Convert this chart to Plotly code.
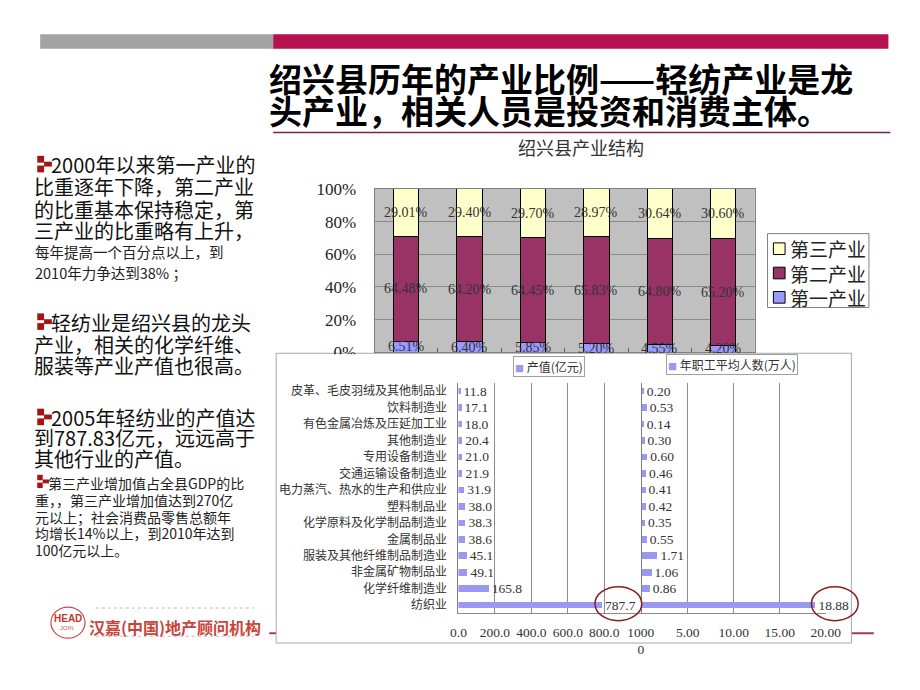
import plotly.graph_objects as go

W, H = 920, 690


def px(x):
    return x / W


def py(y):
    return 1 - y / H


# ---------------- data ----------------
years = ["2000年", "2001年", "2002年", "2003年", "2004年", "2005年"]
primary = [6.51, 6.40, 5.85, 5.20, 4.55, 4.20]
secondary = [64.48, 64.20, 64.45, 65.83, 64.80, 65.20]
tertiary = [29.01, 29.40, 29.70, 28.97, 30.64, 30.60]
sector_names = ["第一产业", "第二产业", "第三产业"]
pct_ticks = [0, 20, 40, 60, 80, 100]
pct_labels = ["0%", "20%", "40%", "60%", "80%", "100%"]

industries = [
    "皮革、毛皮羽绒及其他制品业", "饮料制造业", "有色金属冶炼及压延加工业", "其他制造业",
    "专用设备制造业", "交通运输设备制造业", "电力蒸汽、热水的生产和供应业", "塑料制品业",
    "化学原料及化学制品制造业", "金属制品业", "服装及其他纤维制品制造业", "非金属矿物制品业",
    "化学纤维制造业", "纺织业",
]
output_value = [11.8, 17.1, 18.0, 20.4, 21.0, 21.9, 31.9, 38.0, 38.3, 38.6, 45.1, 49.1, 165.8, 787.7]
workers = [0.20, 0.53, 0.14, 0.30, 0.60, 0.46, 0.41, 0.42, 0.35, 0.55, 1.71, 1.06, 0.86, 18.88]
value_ticks = [0, 200, 400, 600, 800, 1000]
value_ticklabels = ["0.0", "200.0", "400.0", "600.0", "800.0", "1000<br>0"]
worker_ticks = [5, 10, 15, 20]
worker_ticklabels = ["5.00", "10.00", "15.00", "20.00"]

CJK = "Noto Sans CJK SC"
SERIF = "Liberation Serif, Noto Sans CJK SC"
sector_colors = ["#9999FF", "#993366", "#FFFFCC"]
BAR_H = "#9999F2"

fig = go.Figure()

# ---------------- top stacked chart ----------------
sector_values = [primary, secondary, tertiary]
for name, vals, col in zip(sector_names, sector_values, sector_colors):
    fig.add_trace(go.Bar(
        x=years, y=vals, name=name, xaxis="x", yaxis="y",
        marker=dict(color=col, line=dict(color="#000000", width=1)),
        showlegend=False, hoverinfo="x+y+name",
    ))

annotations = []
# segment labels placed at segment mid-points (data coordinates)
for i, yr in enumerate(years):
    base = 0.0
    for vals in sector_values:
        v = vals[i]
        annotations.append(dict(x=yr, y=base + v / 2, xref="x", yref="y", text=f"{v:.2f}%",
                                showarrow=False, xanchor="center", yanchor="middle",
                                font=dict(family=SERIF, size=14, color="#333333")))
        base += v

# ---------------- lower horizontal bars ----------------
fig.add_trace(go.Bar(
    x=output_value, y=industries, orientation="h", xaxis="x2", yaxis="y2",
    marker=dict(color=BAR_H, line=dict(width=0)),
    texttemplate="%{x:.1f}", textposition="outside", cliponaxis=False, constraintext="none",
    textfont=dict(family=SERIF, size=13.5, color="#333333"), showlegend=False,
))
fig.add_trace(go.Bar(
    x=workers, y=industries, orientation="h", xaxis="x3", yaxis="y3",
    marker=dict(color=BAR_H, line=dict(width=0)),
    texttemplate="%{x:.2f}", textposition="outside", cliponaxis=False, constraintext="none",
    textfont=dict(family=SERIF, size=13.5, color="#333333"), showlegend=False,
))

shapes = []

# header bars
shapes.append(dict(type="rect", xref="paper", yref="paper", x0=px(33), x1=px(272), y0=py(41), y1=py(26),
                   fillcolor="#A3A3A3", line=dict(width=0), layer="below"))
shapes.append(dict(type="rect", xref="paper", yref="paper", x0=px(272), x1=px(903), y0=py(41), y1=py(26),
                   fillcolor="#B3124F", line=dict(width=0), layer="below"))
shapes.append(dict(type="line", xref="paper", yref="paper", x0=px(272), x1=px(905), y0=py(127), y1=py(127),
                   line=dict(color="#7B2350", width=1.5), layer="below"))
# footer line
shapes.append(dict(type="line", xref="paper", yref="paper", x0=px(268), x1=px(888), y0=py(642), y1=py(642),
                   line=dict(color="#9B3A62", width=2), layer="below"))
# lower chart frame
shapes.append(dict(type="rect", xref="paper", yref="paper", x0=px(275), x1=px(865), y0=py(652), y1=py(354),
                   fillcolor="#FFFFFF", line=dict(color="#A8A8A8", width=1), layer="below"))
# top plot gray background
shapes.append(dict(type="rect", xref="x domain", yref="y domain", x0=0, x1=1, y0=0, y1=1,
                   fillcolor="#C0C0C0", line=dict(width=0), layer="below"))
# patch hiding lower half of "0%"
shapes.append(dict(type="rect", xref="paper", yref="paper", x0=px(300), x1=px(372), y0=py(366), y1=py(355),
                   fillcolor="#FFFFFF", line=dict(width=0), layer="above"))

# top legend (custom)
shapes.append(dict(type="rect", xref="paper", yref="paper", x0=px(779), x1=px(883), y0=py(307), y1=py(231),
                   fillcolor="#FFFFFF", line=dict(color="#808080", width=1), layer="above"))
for i, (name, col) in enumerate(zip(sector_names[::-1], sector_colors[::-1])):
    yc = 246.5 + 25 * i
    shapes.append(dict(type="rect", xref="paper", yref="paper", x0=px(785), x1=px(797), y0=py(yc + 6), y1=py(yc - 6),
                       fillcolor=col, line=dict(color="#000000", width=1), layer="above"))
    annotations.append(dict(x=px(800), y=py(yc), xref="paper", yref="paper", text=name, showarrow=False,
                            xanchor="left", yanchor="middle", font=dict(family=CJK, size=19, color="#222222")))

# ellipses around the highlighted values
for x0, x1 in [(602, 650), (824, 872)]:
    shapes.append(dict(type="circle", xref="paper", yref="paper", x0=px(x0), x1=px(x1), y0=py(629), y1=py(594),
                       line=dict(color="#8B1C1C", width=1.5), layer="above"))


# bullets
def bullet(x, y, s=1.0):
    red = "#A31515"
    for (a, b, c, d) in [(0, 0, 7, 7), (7, 6, 15, 11), (0, 10, 7, 17)]:
        shapes.append(dict(type="rect", xref="paper", yref="paper",
                           x0=px(x + a * s), x1=px(x + c * s), y0=py(y + d * s), y1=py(y + b * s),
                           fillcolor=red, line=dict(width=0), layer="above"))


bullet(30, 151)
bullet(30, 313)
bullet(30, 411)
bullet(30, 479, 0.8)

# logo
shapes.append(dict(type="circle", xref="paper", yref="paper", x0=px(44), x1=px(79), y0=py(647), y1=py(615),
                   line=dict(color="#C44A4A", width=1.2), layer="above"))
shapes.append(dict(type="line", xref="paper", yref="paper", x0=px(90), x1=px(252), y0=py(616), y1=py(616),
                   line=dict(color="#BBBBBB", width=1, dash="dot"), layer="above"))
shapes.append(dict(type="line", xref="paper", yref="paper", x0=px(90), x1=px(252), y0=py(645), y1=py(645),
                   line=dict(color="#BBBBBB", width=1, dash="dot"), layer="above"))


def note(x, y, text, size, color="#111111", anchor="left", family=CJK):
    annotations.append(dict(x=px(x), y=py(y), xref="paper", yref="paper", text=text, showarrow=False,
                            xanchor=anchor, yanchor="middle", font=dict(family=family, size=size, color=color)))


# title
note(266, 71, "<b>绍兴县历年的产业比例——轻纺产业是龙</b>", 33, "#000000")
note(266, 104, "<b>头产业，相关人员是投资和消费主体。</b>", 33, "#000000")
note(588, 142, "绍兴县产业结构", 18, "#333333", anchor="center")

# left text
big = [
    (42, 160, "2000年以来第一产业的"), (25, 183, "比重逐年下降，第二产业"),
    (25, 206, "的比重基本保持稳定，第"), (25, 228, "三产业的比重略有上升，"),
    (42, 322, "轻纺业是绍兴县的龙头"), (25, 345, "产业，相关的化学纤维、"),
    (25, 367, "服装等产业产值也很高。"),
    (42, 420, "2005年轻纺业的产值达"), (25, 441, "到787.83亿元，远远高于"),
    (25, 462, "其他行业的产值。"),
]
for x, y, t in big:
    note(x, y, t, 20)
small = [
    (26, 249, "每年提高一个百分点以上，到", 14.5), (26, 271, "2010年力争达到38% ；", 14.5),
    (39, 487, "第三产业增加值占全县GDP的比", 14), (26, 505, "重，，第三产业增加值达到270亿", 14),
    (26, 522, "元以上；社会消费品零售总额年", 14), (26, 539, "均增长14%以上，到2010年达到", 14),
    (26, 556, "100亿元以上。", 14),
]
for x, y, t, s in small:
    note(x, y, t, s, "#222222")

# lower legends
annotations.append(dict(x=px(555), y=py(367.5), xref="paper", yref="paper", showarrow=False,
                        text='<span style="color:#9999F2;font-size:9px">■</span> 产值(亿元)',
                        font=dict(family=CJK, size=12, color="#333333"), bordercolor="#A0A0A0",
                        borderwidth=1, borderpad=1, bgcolor="#FFFFFF", xanchor="center", yanchor="middle"))
annotations.append(dict(x=px(743), y=py(366), xref="paper", yref="paper", showarrow=False,
                        text='<span style="color:#9999F2;font-size:9px">■</span> 年职工平均人数(万人)',
                        font=dict(family=CJK, size=12, color="#333333"), bordercolor="#A0A0A0",
                        borderwidth=1, borderpad=1, bgcolor="#FFFFFF", xanchor="center", yanchor="middle"))

# logo texts
note(61.5, 627, "<b>HEAD</b>", 10, "#C0392B", anchor="center", family="Liberation Sans")
note(60, 637, "JOIN", 6, "#C06060", anchor="center", family="Liberation Sans")
note(171, 636, "<b>汉嘉(中国)地产顾问机构</b>", 16, "#C8453C", anchor="center")

fig.update_layout(
    width=W, height=H, margin=dict(l=0, r=0, t=0, b=0, pad=0),
    paper_bgcolor="#FFFFFF", plot_bgcolor="rgba(0,0,0,0)",
    barmode="stack", bargap=0.6, showlegend=False,
    shapes=shapes, annotations=annotations,
    xaxis=dict(domain=[px(376), px(766)], anchor="y", showticklabels=False, showgrid=False,
               showline=True, mirror=True, linecolor="#808080", ticks="inside", ticklen=4,
               tickcolor="#606060", tickson="boundaries", zeroline=False),
    yaxis=dict(domain=[py(353), py(185)], anchor="x", range=[0, 100], tickvals=pct_ticks,
               ticktext=pct_labels, showgrid=True, gridcolor="#8A8A8A", gridwidth=1,
               showline=True, mirror=True, linecolor="#808080", zeroline=False, ticks="",
               ticklabelstandoff=14, tickfont=dict(family=SERIF, size=17, color="#222222")),
    xaxis2=dict(domain=[px(462), px(649)], anchor="y2", range=[0, 1000], tickvals=value_ticks,
                ticktext=value_ticklabels, showgrid=True, gridcolor="#8C8C8C", showline=True,
                linecolor="#8C8C8C", zeroline=False, ticks="", ticklabelstandoff=6,
                tickfont=dict(family=SERIF, size=13.5, color="#333333")),
    yaxis2=dict(domain=[py(621.5), py(384.5)], anchor="x2", type="category",
                categoryorder="array", categoryarray=industries, autorange="reversed",
                showgrid=False, showline=True, linecolor="#808080", ticks="", ticklabelstandoff=8,
                tickfont=dict(family=CJK, size=12, color="#333333")),
    xaxis3=dict(domain=[px(650), px(839)], anchor="y3", range=[0, 20.03], tickvals=worker_ticks,
                ticktext=worker_ticklabels, showgrid=True, gridcolor="#8C8C8C", showline=True,
                linecolor="#8C8C8C", zeroline=False, ticks="", ticklabelstandoff=6,
                tickfont=dict(family=SERIF, size=13.5, color="#333333")),
    yaxis3=dict(domain=[py(621.5), py(384.5)], anchor="x3", type="category",
                categoryorder="array", categoryarray=industries, autorange="reversed",
                showgrid=False, showline=True, linecolor="#808080", ticks="", showticklabels=False),
)

fig.write_html("out.html")
